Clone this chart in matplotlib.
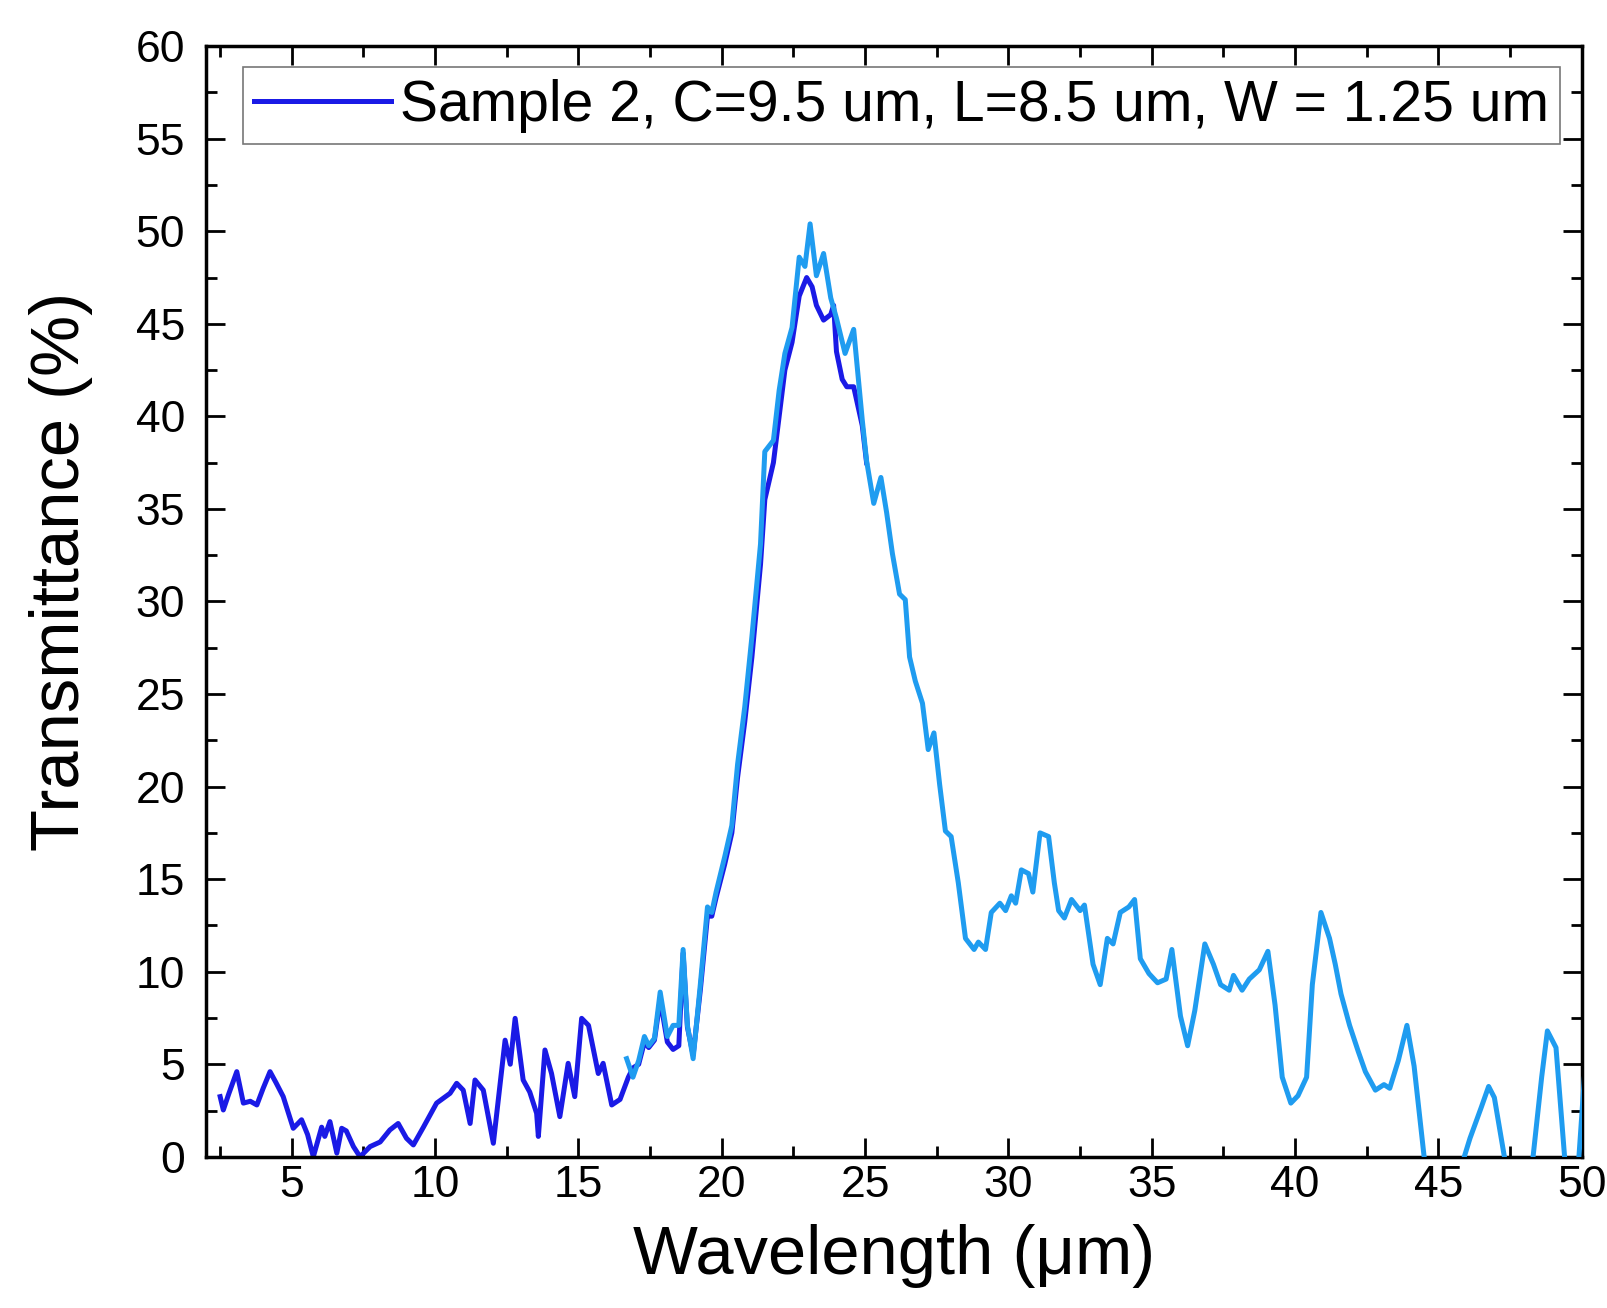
import matplotlib
matplotlib.use("Agg")
import matplotlib.pyplot as plt
from matplotlib.ticker import MultipleLocator

plt.rcParams['font.family'] = ['Liberation Sans', 'DejaVu Sans']

# Sample 2 (dark blue), full range
x_dark = [2.5, 2.61, 2.8, 3.08, 3.31, 3.55, 3.78, 4.0, 4.24, 4.45, 4.7, 5.05, 5.34, 5.55, 5.75,
          6.04, 6.15, 6.33, 6.57, 6.74, 6.9, 7.15, 7.38, 7.73, 8.08, 8.42, 8.71, 9.0, 9.24,
          9.59, 10.05, 10.52, 10.75, 10.98, 11.22, 11.39, 11.68, 12.03, 12.44, 12.62, 12.79,
          13.07, 13.3, 13.54, 13.6, 13.83, 14.06, 14.35, 14.64, 14.87, 15.11, 15.35, 15.69,
          15.86, 16.16, 16.45, 16.74, 16.9, 17.1, 17.3, 17.45, 17.65, 17.85, 18.1, 18.3, 18.5,
          18.65, 18.8, 19.0, 19.25, 19.5, 19.65, 19.8, 20.1, 20.35, 20.55, 20.8, 21.05, 21.35,
          21.5, 21.8, 22.0, 22.2, 22.45, 22.7, 22.96, 23.15, 23.3, 23.55, 23.8, 23.9, 24.0,
          24.2, 24.36, 24.6, 24.9, 25.05]
y_dark = [3.25, 2.53, 3.4, 4.6, 2.9, 3.0, 2.8, 3.7, 4.6, 4.0, 3.25, 1.54, 2.0, 1.2, 0.0,
          1.6, 1.1, 1.9, 0.2, 1.54, 1.4, 0.55, 0.0, 0.55, 0.8, 1.45, 1.8, 1.0, 0.64,
          1.6, 2.9, 3.43, 3.97, 3.6, 1.8, 4.15, 3.6, 0.73, 6.3, 5.0, 7.48,
          4.15, 3.5, 2.35, 1.1, 5.77, 4.5, 2.17, 5.05, 3.25, 7.48, 7.1, 4.5,
          5.05, 2.8, 3.1, 4.3, 4.8, 5.0, 6.2, 5.9, 6.3, 8.5, 6.2, 5.8, 6.0,
          11.0, 7.0, 5.5, 9.0, 13.0, 13.0, 14.0, 15.8, 17.5, 20.5, 23.5, 27.0, 32.0,
          35.5, 37.5, 40.0, 42.5, 44.0, 46.5, 47.5, 47.0, 46.0, 45.2, 45.5, 46.0, 43.5,
          42.0, 41.6, 41.6, 39.5, 37.5]

# Second measurement (light blue)
x_light = [16.68, 16.9, 17.1, 17.3, 17.45, 17.65, 17.85, 18.1, 18.3, 18.5, 18.65, 18.8, 19.0,
           19.25, 19.5, 19.65, 19.8, 20.1, 20.35, 20.55, 20.8, 21.05, 21.35, 21.5, 21.8, 22.0,
           22.2, 22.45, 22.7, 22.9, 23.08, 23.3, 23.55, 23.8, 24.0, 24.3, 24.6, 24.9, 25.05,
           25.3, 25.55, 25.75, 25.95, 26.2, 26.4, 26.55, 26.75, 27.0, 27.2, 27.4, 27.6, 27.8,
           28.0, 28.25, 28.5, 28.8, 28.95, 29.2, 29.4, 29.7, 29.9, 30.1, 30.25, 30.45, 30.7,
           30.85, 31.1, 31.4, 31.6, 31.75, 31.95, 32.2, 32.5, 32.65, 32.95, 33.2, 33.45, 33.65,
           33.9, 34.2, 34.4, 34.6, 34.9, 35.2, 35.5, 35.7, 36.0, 36.25, 36.5, 36.85, 37.15,
           37.4, 37.7, 37.85, 38.15, 38.4, 38.75, 39.05, 39.3, 39.55, 39.85, 40.1, 40.4, 40.6,
           40.9, 41.2, 41.4, 41.6, 41.9, 42.2, 42.45, 42.8, 43.1, 43.3, 43.6, 43.9, 44.15,
           44.5, 44.8, 45.2, 45.6, 45.9, 46.1, 46.5, 46.75, 46.95, 47.3, 47.6, 48.0, 48.3,
           48.6, 48.8, 49.1, 49.4, 49.65, 49.9, 50.1]
y_light = [5.3, 4.3, 5.2, 6.5, 6.0, 6.4, 8.9, 6.5, 7.1, 7.1, 11.2, 7.1, 5.3,
           9.3, 13.5, 13.2, 14.3, 16.2, 17.9, 21.2, 24.3, 28.1, 33.1, 38.1, 38.7, 41.4,
           43.4, 44.8, 48.6, 48.1, 50.4, 47.6, 48.8, 46.4, 45.3, 43.4, 44.7, 39.8, 37.6,
           35.3, 36.7, 34.8, 32.6, 30.4, 30.1, 27.0, 25.7, 24.5, 22.0, 22.9, 20.1, 17.6,
           17.3, 14.8, 11.8, 11.2, 11.6, 11.2, 13.2, 13.7, 13.3, 14.1, 13.7, 15.5, 15.3,
           14.3, 17.5, 17.3, 14.8, 13.3, 12.9, 13.9, 13.3, 13.6, 10.4, 9.3, 11.8, 11.5,
           13.2, 13.5, 13.9, 10.7, 9.9, 9.4, 9.6, 11.2, 7.6, 6.0, 7.9, 11.5, 10.4,
           9.3, 9.0, 9.8, 9.0, 9.6, 10.1, 11.1, 8.2, 4.3, 2.9, 3.3, 4.3, 9.3,
           13.2, 11.8, 10.4, 8.8, 7.1, 5.7, 4.6, 3.6, 3.9, 3.7, 5.2, 7.1, 4.9,
           0.0, -2.0, -3.5, -2.0, 0.0, 1.0, 2.7, 3.8, 3.2, 0.0, -2.5, -2.5, 0.0,
           4.3, 6.8, 5.9, 0.0, -2.5, 0.0, 4.5]

legend_label = "Sample 2, C=9.5 um, L=8.5 um, W = 1.25 um"

fig = plt.figure(figsize=(16.08, 13.08), dpi=100)
ax = fig.add_axes([0.128, 0.1156, 0.8557, 0.8491])

ax.plot(x_dark, y_dark, color='#1a1ae6', lw=3.6, label=legend_label, zorder=2,
        solid_joinstyle='round')
ax.plot(x_light, y_light, color='#1f9cf0', lw=3.6, zorder=3, solid_joinstyle='round')

ax.set_xlim(2, 50)
ax.set_ylim(0, 60)
ax.xaxis.set_major_locator(MultipleLocator(5))
ax.xaxis.set_minor_locator(MultipleLocator(2.5))
ax.yaxis.set_major_locator(MultipleLocator(5))
ax.yaxis.set_minor_locator(MultipleLocator(2.5))
ax.tick_params(which='both', direction='in', top=True, right=True, width=2.0, labelsize=32)
ax.tick_params(which='major', length=14)
ax.tick_params(which='minor', length=8)
ax.tick_params(axis='x', which='major', pad=6)
ax.tick_params(axis='y', which='major', pad=15)
for s in ax.spines.values():
    s.set_linewidth(2.5)

ax.set_xlabel("Wavelength (μm)", fontsize=49.5, labelpad=13)
ax.set_ylabel("Transmittance (%)", fontsize=49.5)
ax.yaxis.set_label_coords(-0.082, 0.527)

leg = ax.legend(loc='upper left', bbox_to_anchor=(0.027, 0.981), borderaxespad=0,
                fontsize=41, handlelength=2.4, handletextpad=0.15, borderpad=0.2,
                fancybox=False, frameon=True)
leg.get_frame().set_edgecolor('#555555')
leg.get_frame().set_linewidth(1.2)

fig.savefig("out.png", dpi=100)
